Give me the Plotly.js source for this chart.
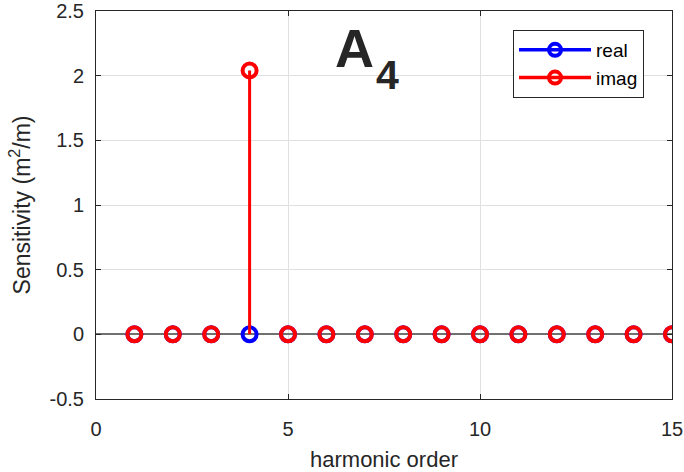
<!DOCTYPE html>
<html>
<head>
<meta charset="utf-8">
<script src="https://cdn.plot.ly/plotly-3.0.1.min.js"></script>
<style>html,body{margin:0;padding:0;background:#fff;}</style>
</head>
<body>
<div id="chart" style="width:684px;height:472px;"></div>
<script>
// Data
const harmonics = [1,2,3,4,5,6,7,8,9,10,11,12,13,14,15];
const realVals  = [0,0,0,0,0,0,0,0,0,0,0,0,0,0,0];
const imagVals  = [0,0,0,2.04,0,0,0,0,0,0,0,0,0,0,0];
const seriesNames = ['real','imag'];
const seriesColors = ['#0000ff','#ff0000'];
const xTicks = [0,5,10,15];
const yTicks = [-0.5,0,0.5,1,1.5,2,2.5];
const yTickText = ['-0.5','0','0.5','1','1.5','2','2.5'];
const panelLabel = 'A';
const panelSub = '4';

function stems(xs, ys){
  const sx=[], sy=[];
  xs.forEach((x,i)=>{ sx.push(x,x,null); sy.push(0,ys[i],null); });
  return {sx, sy};
}

const traces = [];
[realVals, imagVals].forEach((vals, k)=>{
  const s = stems(harmonics, vals);
  traces.push({x:s.sx, y:s.sy, mode:'lines', type:'scatter', showlegend:false,
    line:{color:seriesColors[k], width:3}, hoverinfo:'skip'});
  traces.push({x:harmonics, y:vals, mode:'markers', type:'scatter', showlegend:false,
    marker:{symbol:'circle-open', size:14, color:seriesColors[k], line:{width:4, color:seriesColors[k]}}});
});
// legend entries
[0,1].forEach(k=>{
  traces.push({x:[null], y:[null], mode:'lines+markers', type:'scatter', name:seriesNames[k],
    line:{color:seriesColors[k], width:3.5},
    marker:{symbol:'circle-open', size:12, color:seriesColors[k], line:{width:4, color:seriesColors[k]}}});
});

const fam = 'Liberation Sans, Arial, sans-serif';
const tickFont = {family:fam, size:20, color:'#262626'};

const layout = {
  width:684, height:472,
  margin:{l:96, r:12, t:11, b:73, pad:0},
  paper_bgcolor:'#ffffff', plot_bgcolor:'#ffffff',
  font:tickFont,
  xaxis:{range:[0,15], tickvals:xTicks, ticktext:xTicks.map(String), ticks:'inside', ticklen:5,
    tickcolor:'#262626', showline:true, linecolor:'#262626', linewidth:1, mirror:'ticks',
    showgrid:true, gridcolor:'#e0e0e0', gridwidth:1, zeroline:false, tickfont:tickFont,
    ticklabelstandoff:12,
    title:{text:'harmonic order', font:{family:fam, size:22, color:'#262626'}, standoff:12}},
  yaxis:{range:[-0.5,2.5], tickvals:yTicks, ticktext:yTickText, ticks:'inside', ticklen:5,
    tickcolor:'#262626', showline:true, linecolor:'#262626', linewidth:1, mirror:'ticks',
    showgrid:true, gridcolor:'#e0e0e0', gridwidth:1,
    zeroline:true, zerolinecolor:'#707070', zerolinewidth:2, tickfont:tickFont,
    ticklabelstandoff:7,
    title:{text:'Sensitivity (m<sup>2</sup>/m)', font:{family:fam, size:23, color:'#262626'}, standoff:12}},
  legend:{x:0.724, y:0.951, xanchor:'left', yanchor:'top', bgcolor:'#ffffff',
    bordercolor:'#262626', borderwidth:1, font:{family:fam, size:19, color:'#000'},
    itemwidth:72, tracegroupgap:0},
  annotations:[
    {xref:'x', yref:'y', x:6.74, y:1.97, xanchor:'center', yanchor:'bottom', showarrow:false,
      text:'<b>'+panelLabel+'</b>', font:{family:fam, size:54, color:'#262626'}},
    {xref:'x', yref:'y', x:7.6, y:1.81, xanchor:'center', yanchor:'bottom', showarrow:false,
      text:'<b>'+panelSub+'</b>', font:{family:fam, size:41, color:'#262626'}}
  ],
  showlegend:true
};

Plotly.newPlot('chart', traces, layout, {displayModeBar:false, staticPlot:true});
</script>
</body>
</html>
